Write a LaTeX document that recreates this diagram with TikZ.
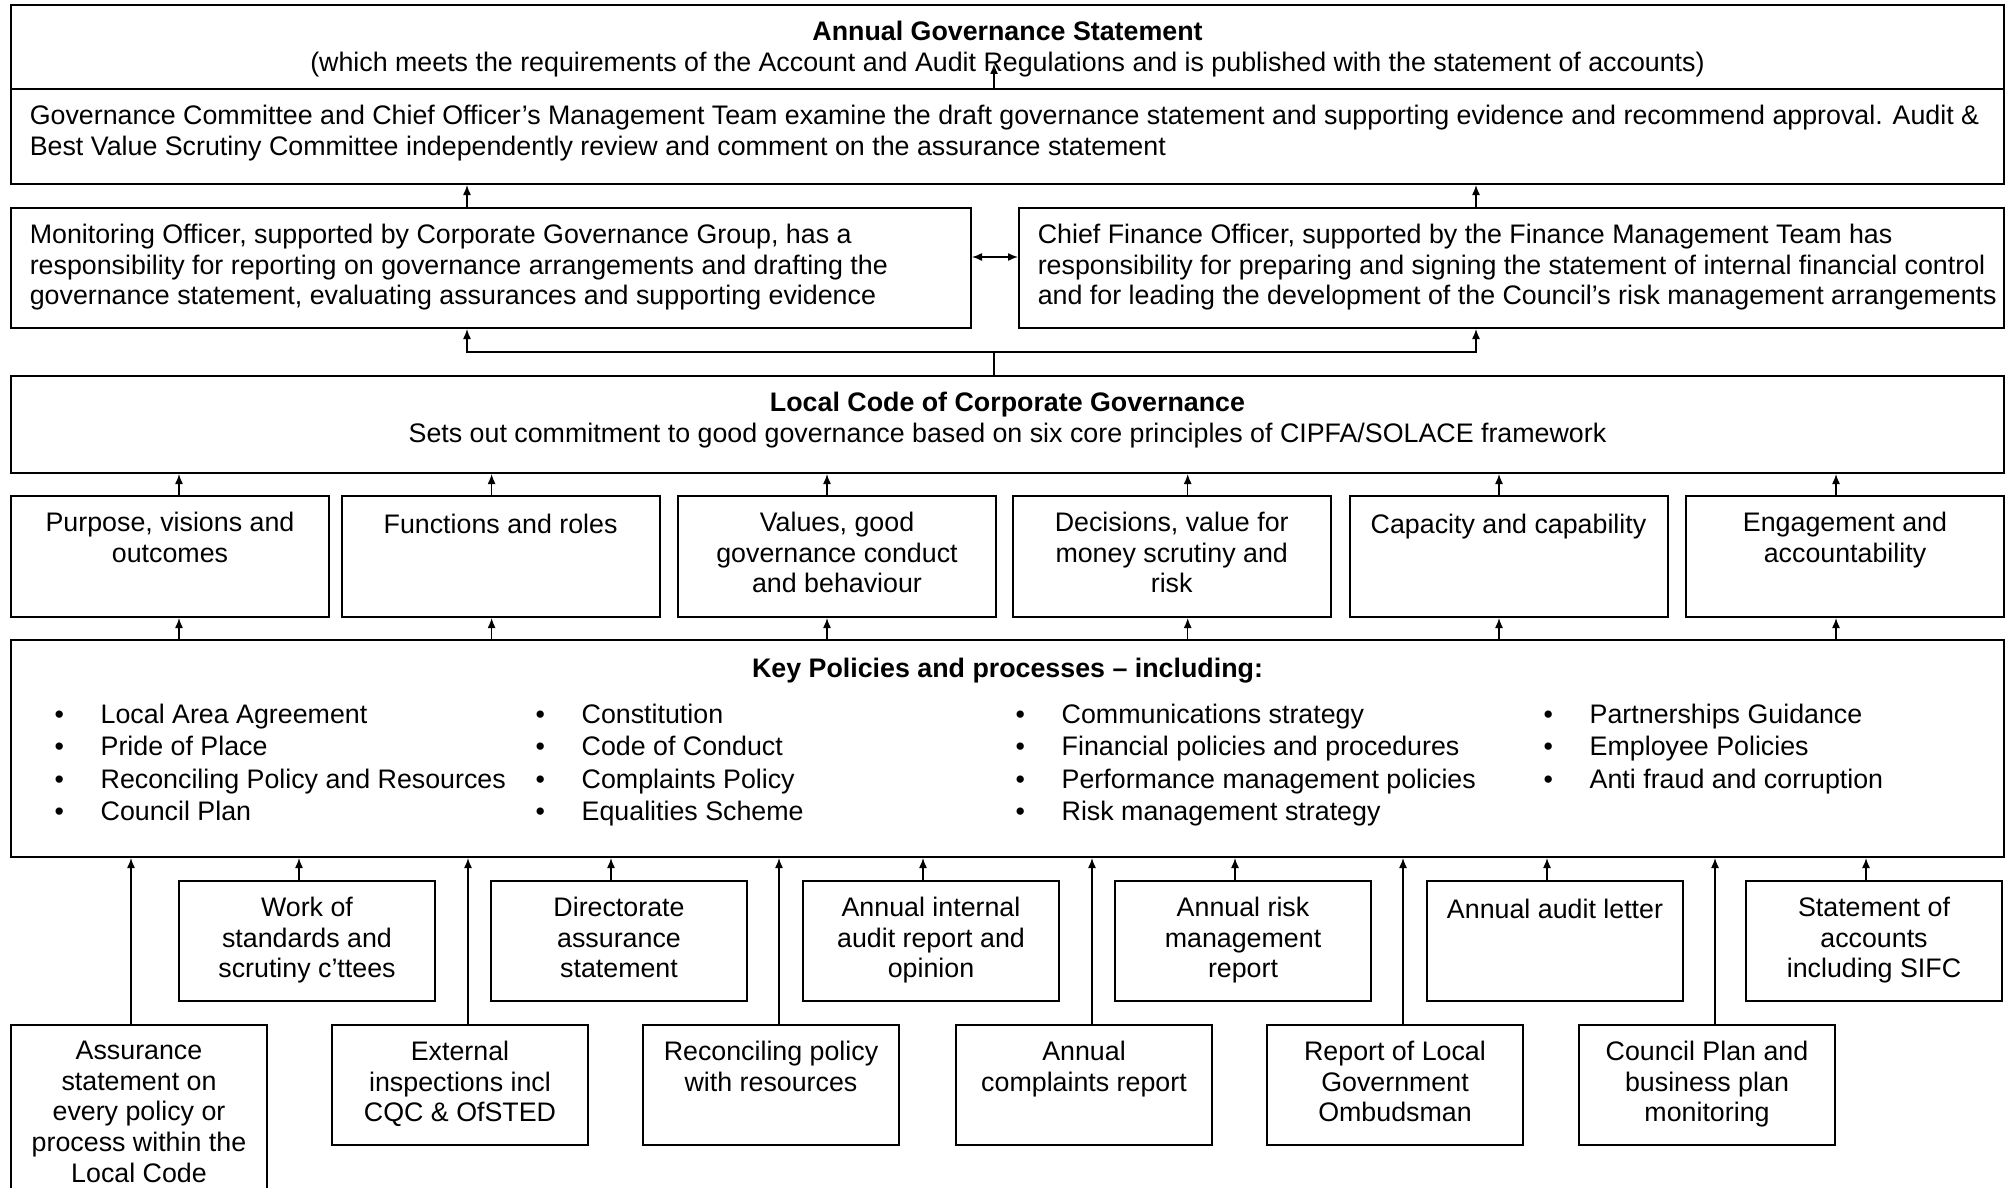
\documentclass[tikz,border=0pt]{standalone}
\usepackage{fontspec}
\setmainfont{Liberation Sans}
\usetikzlibrary{arrows.meta}
\newcommand{\boxfont}{\fontsize{13.4}{15.4}\selectfont}
\newcommand{\listfont}{\fontsize{13.4}{16.2}\selectfont}
\newcommand{\bul}{\makebox[23pt][l]{\textbullet}}

\begin{document}
\begin{tikzpicture}[x=0.5pt, y=-0.5pt, font=\boxfont,
    box/.style={draw, line width=1pt, anchor=north west, inner sep=0pt},
    txt/.style={anchor=north, align=center, inner sep=0pt, execute at begin node=\strut},
    ltxt/.style={txt, anchor=north west, align=left},
    arr/.style={line width=0.7pt, -{Latex[length=5pt,width=4pt]}},
    darr/.style={arr, {Latex[length=5pt,width=4pt]}-{Latex[length=5pt,width=4pt]}}]
  \useasboundingbox (0,0) rectangle (2008,1188);
  \node[box, minimum width=996.5pt, minimum height=42pt] (ags) at (10,4) {};
  \node[txt] (agst) at ([yshift=-8.3pt]ags.north) {\textbf{Annual Governance Statement}\\
    (which meets the requirements of the Account and Audit Regulations and is published with the statement of accounts)};
  \node[box, minimum width=996.5pt, minimum height=47.5pt] (gov) at (10,88) {};
  \node[ltxt] (govt) at ([xshift=9.7pt, yshift=-8.2pt]gov.north west) {Governance Committee and Chief Officer’s Management Team examine the draft governance statement and supporting evidence and recommend approval. Audit \&\\
    Best Value Scrutiny Committee independently review and comment on the assurance statement};
  \node[box, minimum width=480pt, minimum height=60pt] (mo) at (10,207) {};
  \node[ltxt] (mot) at ([xshift=9.7pt, yshift=-8.2pt]mo.north west) {Monitoring Officer, supported by Corporate Governance Group, has a\\
    responsibility for reporting on governance arrangements and drafting the\\
    governance statement, evaluating assurances and supporting evidence};
  \node[box, minimum width=492.5pt, minimum height=60pt] (fi) at (1018,207) {};
  \node[ltxt] (fit) at ([xshift=9.7pt, yshift=-8.2pt]fi.north west) {Chief Finance Officer, supported by the Finance Management Team has\\
    responsibility for preparing and signing the statement of internal financial control\\
    and for leading the development of the Council’s risk management arrangements};
  \node[box, minimum width=996.5pt, minimum height=48.5pt] (local) at (10,375) {};
  \node[txt] (localt) at ([yshift=-8.2pt]local.north) {\textbf{Local Code of Corporate Governance}\\
    Sets out commitment to good governance based on six core principles of CIPFA/SOLACE framework};
  \node[box, minimum width=996.5pt, minimum height=108.5pt] (key) at (10,639) {};
  \node[txt] (keyt) at ([yshift=-8.2pt]key.north) {\textbf{Key Policies and processes – including:}};

  \foreach \i/\x/\t in {1/54.3/{Local Area Agreement\\\bul Pride of Place\\\bul Reconciling Policy and Resources\\\bul Council Plan},
      2/535.3/{Constitution\\\bul Code of Conduct\\\bul Complaints Policy\\\bul Equalities Scheme},
      3/1015.3/{Communications strategy\\\bul Financial policies and procedures\\\bul Performance management policies\\\bul Risk management strategy},
      4/1543.3/{Partnerships Guidance\\\bul Employee Policies\\\bul Anti fraud and corruption}}
    \node[ltxt, font=\listfont] (list\i) at (\x,639) [yshift=-32.2pt] {\bul\t};

  \foreach \i/\x/\s/\t in {1/10/4.5/{Purpose, visions and\\outcomes}, 2/340.6/-4.5/{Functions and roles},
      3/677/-5/{Values, good\\governance conduct\\and behaviour}, 4/1011.7/8/{Decisions, value for\\money scrutiny and\\risk},
      5/1348.5/-4.75/{Capacity and capability}, 6/1685/-4.5/{Engagement and\\accountability}} {
    \node[box, minimum width=159pt, minimum height=60.5pt] (p\i) at (\x,495) {};
    \node[txt] (pt\i) at ([yshift=-8.2pt]p\i.north) {\t};
    \draw[arr] ([xshift=\s pt]p\i.north) -- ([xshift=\s pt]p\i.north |- local.south);
    \draw[arr] ([xshift=\s pt]p\i.south |- key.north) -- ([xshift=\s pt]p\i.south);
  }

  \foreach \i/\x/\t in {1/178/{Work of\\standards and\\scrutiny c’ttees}, 2/490/{Directorate\\assurance\\statement},
      3/802/{Annual internal\\audit report and\\opinion}, 4/1114/{Annual risk\\management\\report},
      5/1426/{Annual audit letter}, 6/1745/{Statement of\\accounts\\including SIFC}} {
    \node[box, minimum width=128pt, minimum height=60pt] (m\i) at (\x,880) {};
    \node[txt] (mt\i) at ([yshift=-8.2pt]m\i.north) {\t};
    \draw[arr] ([xshift=-4pt]m\i.north) -- ([xshift=-4pt]m\i.north |- key.south);
  }

  \foreach \i/\x/\h/\s/\t in {1/10/84/-4/{Assurance\\statement on\\every policy or\\process within the\\Local Code},
      2/331/60/4/{External\\inspections incl\\CQC \& OfSTED}, 3/642/60/4/{Reconciling policy\\with resources},
      4/955/60/4/{Annual\\complaints report}, 5/1266/60/4/{Report of Local\\Government\\Ombudsman},
      6/1578/60/4/{Council Plan and\\business plan\\monitoring}} {
    \node[box, minimum width=128pt, minimum height=\h pt] (b\i) at (\x,1024) {};
    \node[txt] (bt\i) at ([yshift=-8.2pt]b\i.north) {\t};
    \draw[arr] ([xshift=\s pt]b\i.north) -- ([xshift=\s pt]b\i.north |- key.south);
  }

  \coordinate (split) at (994,352);
  \coordinate (agstip) at (994,64);
  \draw[arr] (agstip |- gov.north) -- (agstip);
  \draw[arr] ([xshift=-12pt]mo.north) -- ([xshift=-12pt]mo.north |- gov.south);
  \draw[arr] ([xshift=-17.75pt]fi.north) -- ([xshift=-17.75pt]fi.north |- gov.south);
  \draw[darr] ([yshift=5.5pt]mo.east) -- ([yshift=5.5pt]mo.east -| fi.west);
  \draw[darr] ([xshift=-12pt]mo.south) |- (split) -| ([xshift=-17.75pt]fi.south);
  \draw[line width=0.7pt] (split |- local.north) -- (split);
\end{tikzpicture}
\end{document}
